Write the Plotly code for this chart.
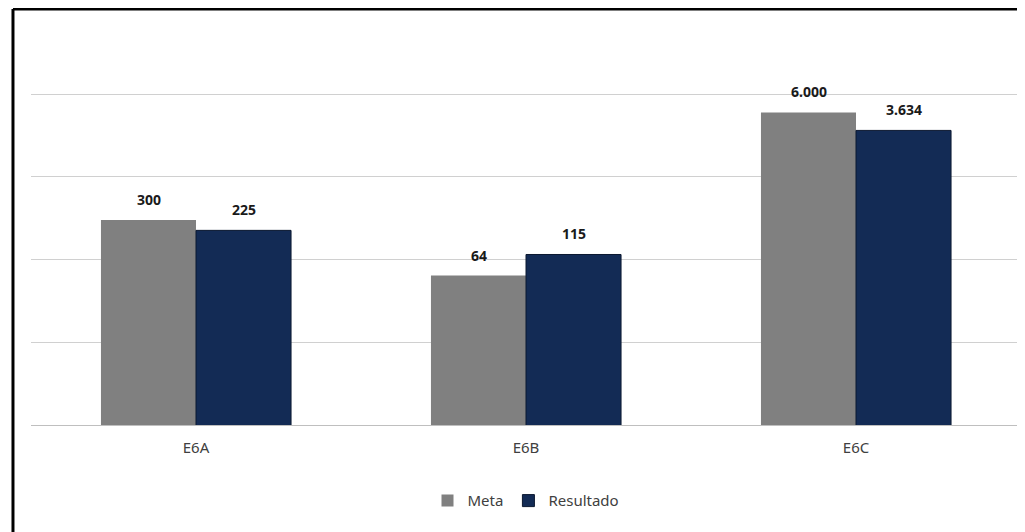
import math
import plotly.graph_objects as go

categories = ["E6A", "E6B", "E6C"]
meta = [300, 64, 6000]
resultado = [225, 115, 3634]
meta_labels = ["300", "64", "6.000"]
resultado_labels = ["225", "115", "3.634"]

FONT = "Noto Sans, Liberation Sans, Arial"

fig = go.Figure()
fig.add_trace(go.Bar(name="Meta", x=categories, y=meta, marker=dict(color="#808080", line=dict(width=0)),
                     offsetgroup="m"))
fig.add_trace(go.Bar(name="Resultado", x=categories, y=resultado,
                     marker=dict(color="#132B55", line=dict(color="#0B1830", width=1)), offsetgroup="r"))

for trace_vals, labels, xs in ((meta, meta_labels, -47.5), (resultado, resultado_labels, 47.5)):
    for c, v, t in zip(categories, trace_vals, labels):
        fig.add_annotation(x=c, y=math.log10(v), text="<b>" + t + "</b>", showarrow=False, xshift=xs,
                           yshift=9, yanchor="bottom", yref="y", xref="x",
                           font=dict(family=FONT, size=14, color="#1a1a1a"))

fig.update_layout(
    width=1025, height=532,
    margin=dict(l=23, r=12, t=32, b=115),
    paper_bgcolor="white", plot_bgcolor="white",
    barmode="group", bargap=0.424, bargroupgap=0,
    showlegend=True,
    legend=dict(orientation="h", x=0.5, xanchor="center", y=-0.197, yanchor="middle",
                font=dict(family=FONT, size=15, color="#404040"),
                itemwidth=30, traceorder="normal"),
    xaxis=dict(showline=True, linecolor="#BFBFBF", linewidth=1, ticks="", showgrid=False,
               ticklabelstandoff=9,
               tickfont=dict(family=FONT, size=15, color="#404040")),
    yaxis=dict(type="log", range=[0, 4.653], dtick=1, showticklabels=False, showgrid=True,
               gridcolor="#D0D0D0", gridwidth=1, zeroline=False, showline=False, ticks=""),
    shapes=[
        dict(type="line", xref="paper", yref="paper", x0=-0.0182, x1=-0.0182, y0=-0.4, y1=1.0805,
             line=dict(color="black", width=3)),
        dict(type="line", xref="paper", yref="paper", x0=-0.0182, x1=1.1, y0=1.0805, y1=1.0805,
             line=dict(color="black", width=3)),
    ],
)

fig.write_html("out.html")
